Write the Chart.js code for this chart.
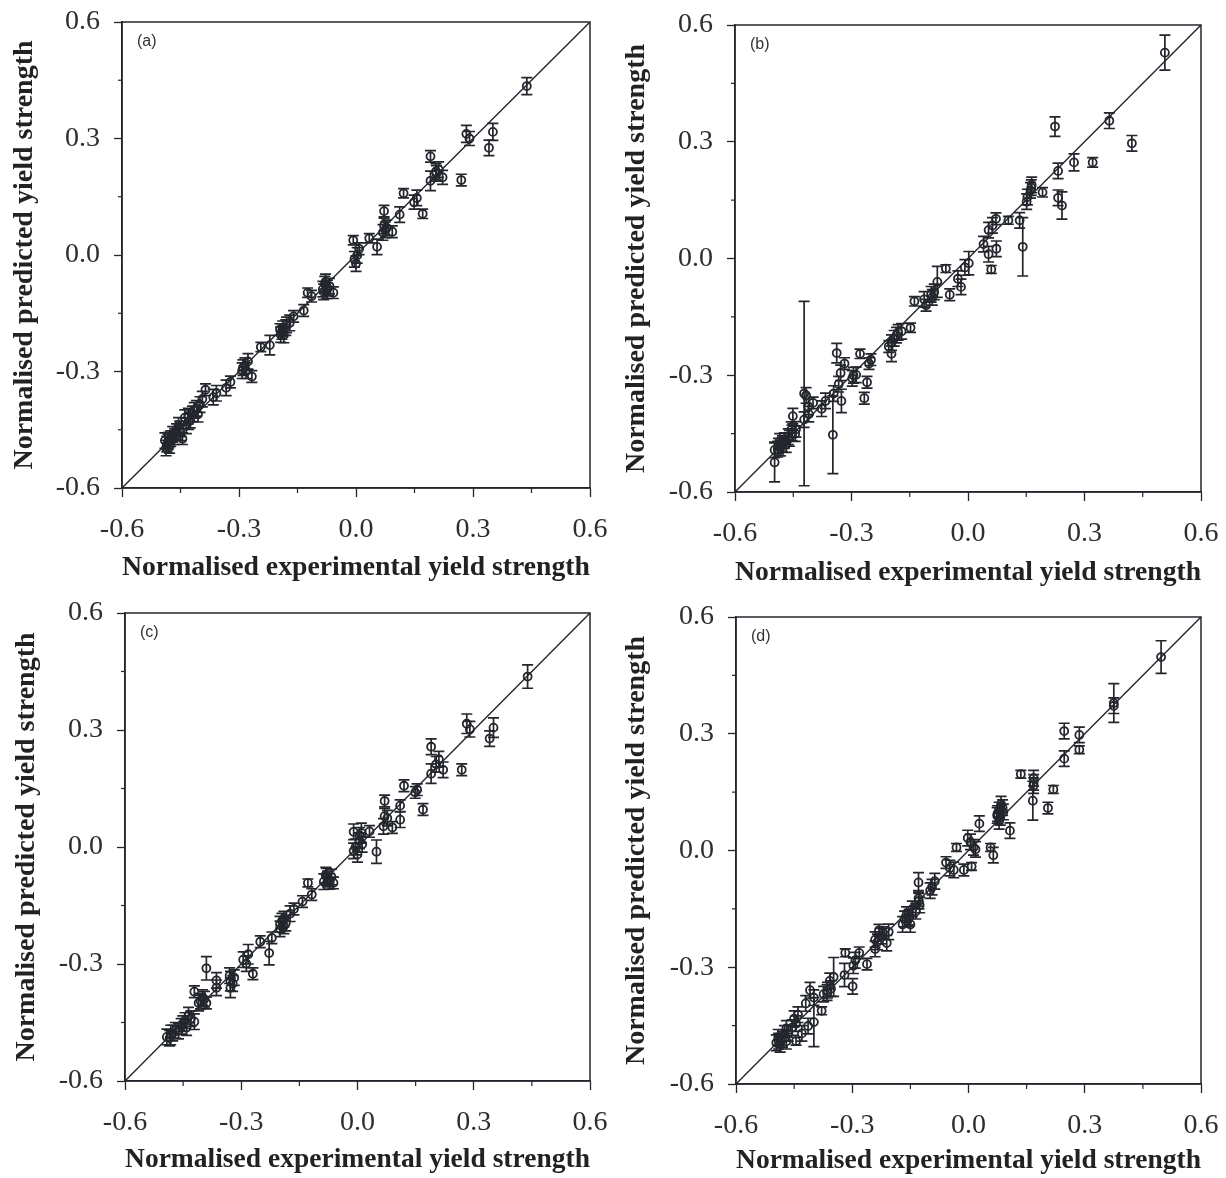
<!DOCTYPE html>
<html><head><meta charset="utf-8">
<script src="https://cdn.jsdelivr.net/npm/chart.js@4.4.1/dist/chart.umd.min.js"></script>
<style>
html,body{margin:0;padding:0;background:#fff;}
#wrap{position:relative;width:1226px;height:1178px;overflow:hidden;background:#fff;}
canvas{position:absolute;}
</style></head><body>
<div id="wrap">
<canvas id="ca" width="613" height="590" style="left:0;top:0"></canvas>
<canvas id="cb" width="613" height="590" style="left:613px;top:0"></canvas>
<canvas id="cc" width="613" height="588" style="left:0;top:590px"></canvas>
<canvas id="cd" width="613" height="588" style="left:613px;top:590px"></canvas>
</div>
<script>
// ---------------- data ----------------
const tickValues = [-0.6,-0.45,-0.3,-0.15,0,0.15,0.3,0.45,0.6];
const tickLabels = ['-0.6','','-0.3','','0.0','','0.3','','0.6'];
const xTitle = 'Normalised experimental yield strength';
const yTitle = 'Normalised predicted yield strength';
const panelLabels = ['(a)','(b)','(c)','(d)'];
const diagonal = [-0.6, 0.6];

const expA  = [0.438,0.283,0.291,0.351,0.341,0.191,0.212,0.206,0.222,0.191,0.270,0.122,0.156,0.149,0.171,0.072,0.112,0.072,0.079,0.069,0.093,0.034,-0.007,0.054,0.008,-0.004,0.003,0.000,-0.078,-0.073,-0.083,-0.058,-0.068,-0.124,-0.114,-0.134,-0.160,-0.170,-0.180,-0.190,-0.195,-0.185,-0.221,-0.244,-0.277,-0.282,-0.292,-0.267,-0.322,-0.333,-0.358,-0.366,-0.386,-0.394,-0.409,-0.419,-0.429,-0.439,-0.455,-0.450,-0.465,-0.480,-0.485,-0.475,-0.487,-0.445,-0.425,-0.405,
               -0.482,-0.478,-0.470,-0.460,-0.490,-0.452,-0.435,-0.430,-0.415,-0.400,-0.080,-0.085,-0.075,-0.188,-0.178,-0.193,-0.285,-0.290,0.075,0.205];
const predA = [0.435,0.312,0.300,0.317,0.276,0.254,0.220,0.210,0.200,0.191,0.193,0.159,0.147,0.136,0.106,0.113,0.104,0.075,0.070,0.058,0.060,0.043,0.038,0.021,0.016,-0.011,-0.001,-0.022,-0.069,-0.085,-0.095,-0.097,-0.080,-0.097,-0.106,-0.143,-0.158,-0.175,-0.187,-0.197,-0.192,-0.206,-0.232,-0.237,-0.274,-0.298,-0.298,-0.313,-0.327,-0.342,-0.356,-0.366,-0.347,-0.371,-0.395,-0.409,-0.429,-0.419,-0.439,-0.458,-0.468,-0.477,-0.487,-0.473,-0.497,-0.473,-0.425,-0.410,
               -0.482,-0.490,-0.462,-0.455,-0.478,-0.448,-0.440,-0.415,-0.400,-0.385,-0.075,-0.088,-0.092,-0.190,-0.180,-0.205,-0.285,-0.290,0.065,0.215];
const errA  = [0.022,0.022,0.018,0.022,0.02,0.015,0.02,0.02,0.018,0.025,0.015,0.012,0.02,0.018,0.012,0.015,0.02,0.02,0.02,0.02,0.015,0.012,0.012,0.02,0.015,0.02,0.02,0.02,0.02,0.02,0.02,0.015,0.02,0.012,0.015,0.015,0.015,0.02,0.02,0.02,0.015,0.02,0.025,0.012,0.02,0.02,0.02,0.015,0.015,0.02,0.02,0.02,0.015,0.02,0.02,0.02,0.02,0.02,0.02,0.02,0.02,0.02,0.02,0.02,0.02,0.015,0.02,0.02,
               0.02,0.02,0.02,0.02,0.02,0.02,0.02,0.02,0.02,0.02,0.02,0.02,0.02,0.02,0.02,0.02,0.02,0.02,0.02,0.02];

const expB  = [0.507,0.364,0.224,0.422,0.321,0.273,0.232,0.164,0.161,0.192,0.232,0.242,0.153,0.151,0.104,0.133,0.141,0.072,0.063,0.053,0.040,0.053,0.073,0.060,-0.057,0.002,-0.008,-0.026,-0.018,-0.079,-0.047,-0.087,-0.092,-0.113,-0.138,-0.108,-0.148,-0.171,-0.184,-0.197,-0.204,-0.197,-0.250,-0.255,-0.278,-0.288,-0.298,-0.260,-0.267,-0.338,-0.318,-0.328,-0.333,-0.346,-0.326,-0.348,-0.367,-0.377,-0.399,-0.411,-0.417,-0.422,-0.410,-0.422,-0.451,-0.443,-0.453,-0.463,-0.473,-0.488,-0.498,-0.483,-0.498,-0.468,
               -0.478,-0.485,-0.460,-0.455,-0.490,-0.445,-0.190,-0.180,-0.095,-0.295,0.163];
const predB = [0.529,0.354,0.339,0.296,0.247,0.247,0.225,0.189,0.175,0.170,0.156,0.136,0.158,0.146,0.098,0.098,0.030,0.102,0.085,0.073,0.037,0.011,0.025,-0.028,-0.026,-0.012,-0.023,-0.052,-0.073,-0.060,-0.093,-0.086,-0.100,-0.105,-0.110,-0.120,-0.178,-0.187,-0.197,-0.216,-0.226,-0.245,-0.260,-0.270,-0.245,-0.299,-0.308,-0.318,-0.359,-0.243,-0.270,-0.294,-0.323,-0.347,-0.366,-0.453,-0.366,-0.386,-0.371,-0.381,-0.352,-0.347,-0.400,-0.414,-0.405,-0.439,-0.448,-0.458,-0.468,-0.482,-0.492,-0.487,-0.524,-0.478,
               -0.476,-0.470,-0.462,-0.440,-0.490,-0.450,-0.205,-0.190,-0.092,-0.300,0.182];
const errB  = [0.045,0.02,0.025,0.02,0.012,0.022,0.02,0.02,0.02,0.012,0.02,0.035,0.02,0.02,0.01,0.02,0.075,0.015,0.02,0.02,0.02,0.02,0.02,0.01,0.01,0.03,0.02,0.02,0.02,0.04,0.015,0.02,0.02,0.02,0.012,0.015,0.012,0.02,0.02,0.02,0.015,0.02,0.015,0.015,0.012,0.02,0.02,0.015,0.015,0.025,0.015,0.02,0.02,0.02,0.03,0.1,0.02,0.02,0.015,0.02,0.02,0.237,0.02,0.02,0.02,0.02,0.02,0.02,0.02,0.02,0.02,0.02,0.05,0.02,
               0.02,0.02,0.02,0.02,0.02,0.02,0.02,0.02,0.02,0.02,0.02];

const expC  = [0.439,0.282,0.290,0.351,0.341,0.190,0.210,0.203,0.221,0.190,0.269,0.120,0.154,0.149,0.169,0.070,0.110,0.110,0.070,0.077,0.067,0.090,0.031,-0.010,0.010,0.049,0.005,0.012,-0.010,0.000,-0.082,-0.067,-0.087,-0.062,-0.077,-0.128,-0.118,-0.142,-0.164,-0.174,-0.190,-0.200,-0.190,-0.221,-0.251,-0.228,-0.282,-0.295,-0.287,-0.270,-0.318,-0.328,-0.328,-0.390,-0.364,-0.364,-0.421,-0.400,-0.410,-0.390,-0.436,-0.421,-0.451,-0.441,-0.462,-0.482,-0.492,-0.477,
               -0.485,-0.470,-0.455,-0.445,-0.430,-0.405,-0.395,-0.330,-0.322,-0.195,-0.185,-0.200,-0.080,-0.072,0.005,-0.005];
const predC = [0.437,0.316,0.302,0.306,0.278,0.257,0.225,0.212,0.198,0.188,0.198,0.157,0.147,0.140,0.096,0.118,0.106,0.070,0.079,0.074,0.053,0.050,0.040,0.039,0.036,-0.012,0.016,0.007,-0.010,-0.019,-0.072,-0.077,-0.089,-0.092,-0.082,-0.092,-0.122,-0.140,-0.159,-0.171,-0.185,-0.198,-0.202,-0.233,-0.243,-0.272,-0.275,-0.289,-0.299,-0.325,-0.335,-0.344,-0.361,-0.311,-0.342,-0.361,-0.371,-0.386,-0.400,-0.400,-0.431,-0.448,-0.453,-0.463,-0.472,-0.482,-0.487,-0.477,
               -0.490,-0.470,-0.460,-0.445,-0.440,-0.395,-0.390,-0.330,-0.350,-0.190,-0.195,-0.210,-0.075,-0.088,0.030,0.000];
const errC  = [0.03,0.025,0.02,0.025,0.02,0.02,0.02,0.02,0.02,0.025,0.015,0.015,0.015,0.015,0.015,0.015,0.015,0.02,0.02,0.02,0.02,0.015,0.015,0.02,0.025,0.03,0.02,0.02,0.02,0.02,0.02,0.02,0.02,0.015,0.02,0.01,0.015,0.015,0.015,0.02,0.02,0.02,0.02,0.015,0.015,0.03,0.025,0.02,0.02,0.015,0.02,0.025,0.025,0.03,0.02,0.02,0.015,0.02,0.02,0.015,0.02,0.02,0.02,0.02,0.02,0.025,0.02,0.02,
               0.02,0.02,0.02,0.02,0.02,0.02,0.02,0.02,0.02,0.02,0.02,0.02,0.02,0.02,0.02,0.02];

const expD  = [0.497,0.375,0.375,0.247,0.286,0.286,0.247,0.135,0.168,0.168,0.166,0.219,0.205,0.084,0.079,0.074,0.079,0.090,0.107,0.028,-0.031,-0.002,0.005,0.013,0.018,0.057,0.064,0.008,-0.012,-0.058,-0.048,-0.038,-0.087,-0.094,-0.099,-0.129,-0.129,-0.126,-0.136,-0.153,-0.165,-0.170,-0.150,-0.211,-0.206,-0.221,-0.231,-0.241,-0.241,-0.262,-0.282,-0.292,-0.318,-0.297,-0.299,-0.320,-0.348,-0.358,-0.364,-0.374,-0.379,-0.409,-0.420,-0.399,-0.399,-0.414,-0.440,-0.450,-0.430,-0.445,-0.470,-0.475,-0.470,-0.491,-0.496,-0.486,
               -0.490,-0.480,-0.465,-0.455,-0.445,-0.365,-0.355,-0.160,-0.155,-0.145,-0.128,0.082,0.088,0.075,-0.235,-0.225,0.168];
const predD = [0.497,0.379,0.372,0.307,0.297,0.259,0.236,0.196,0.186,0.167,0.128,0.157,0.109,0.119,0.104,0.090,0.075,0.099,0.051,0.069,0.008,0.032,0.022,0.008,0.003,0.008,-0.012,-0.041,-0.050,-0.031,-0.045,-0.050,-0.079,-0.094,-0.103,-0.082,-0.123,-0.140,-0.156,-0.171,-0.176,-0.190,-0.190,-0.238,-0.209,-0.211,-0.205,-0.229,-0.253,-0.292,-0.263,-0.282,-0.263,-0.296,-0.349,-0.320,-0.325,-0.335,-0.359,-0.369,-0.412,-0.359,-0.393,-0.378,-0.441,-0.451,-0.422,-0.432,-0.470,-0.490,-0.457,-0.470,-0.490,-0.480,-0.494,-0.498,
               -0.490,-0.485,-0.470,-0.455,-0.445,-0.365,-0.355,-0.165,-0.175,-0.150,-0.130,0.085,0.110,0.095,-0.235,-0.220,0.175];
const errD  = [0.042,0.05,0.02,0.02,0.02,0.01,0.02,0.01,0.02,0.02,0.05,0.01,0.015,0.02,0.02,0.02,0.02,0.02,0.02,0.02,0.01,0.02,0.02,0.02,0.02,0.01,0.02,0.01,0.015,0.015,0.02,0.02,0.02,0.02,0.02,0.025,0.02,0.02,0.02,0.02,0.02,0.02,0.02,0.02,0.02,0.015,0.015,0.02,0.02,0.015,0.015,0.02,0.01,0.02,0.02,0.03,0.05,0.02,0.02,0.02,0.01,0.02,0.02,0.02,0.063,0.02,0.02,0.02,0.02,0.01,0.02,0.02,0.02,0.02,0.02,0.02,
               0.02,0.02,0.02,0.02,0.02,0.02,0.02,0.02,0.02,0.02,0.02,0.02,0.02,0.02,0.02,0.02,0.02];

// ---------------- style ----------------
const INK = '#24262d';
const TXT = '#2e2e2e';
const SERIF = '"Liberation Serif", "Times New Roman", serif';

const decoPlugin = {
  id: 'deco',
  beforeDatasetsDraw(chart) {
    const {ctx, scales: {x, y}} = chart;
    const ds = chart.data.datasets[1];
    ctx.save();
    ctx.strokeStyle = INK; ctx.lineWidth = 1.7;
    ds.data.forEach(p => {
      const px = x.getPixelForValue(p.x);
      const y1 = y.getPixelForValue(p.y + p.e), y2 = y.getPixelForValue(p.y - p.e);
      ctx.beginPath();
      ctx.moveTo(px, y1); ctx.lineTo(px, y2);
      ctx.moveTo(px - 5.5, y1); ctx.lineTo(px + 5.5, y1);
      ctx.moveTo(px - 5.5, y2); ctx.lineTo(px + 5.5, y2);
      ctx.stroke();
    });
    ctx.restore();
  },
  afterDraw(chart, args, opts) {
    const {ctx, chartArea: a, scales: {x, y}} = chart;
    ctx.save();
    ctx.strokeStyle = INK; ctx.lineWidth = 1.5;
    ctx.strokeRect(a.left, a.top, a.right - a.left, a.bottom - a.top);
    ctx.lineWidth = 1.2;
    tickValues.forEach((v, i) => {
      if (i % 2 === 1) {
        const px = x.getPixelForValue(v);
        ctx.beginPath(); ctx.moveTo(px, a.bottom); ctx.lineTo(px, a.bottom + 5); ctx.stroke();
        const py = y.getPixelForValue(v);
        ctx.beginPath(); ctx.moveTo(a.left, py); ctx.lineTo(a.left - 4, py); ctx.stroke();
      }
    });
    ctx.fillStyle = '#333';
    ctx.font = '16px "Liberation Sans", Arial, sans-serif';
    ctx.textBaseline = 'top';
    ctx.fillText(opts.label, a.left + 15, a.top + 12);
    ctx.restore();
  }
};

function makeChart(id, xs, ys, es, label, L) {
  const pts = xs.map((v, i) => ({x: v, y: ys[i], e: es[i]}));
  return new Chart(document.getElementById(id), {
    type: 'scatter',
    data: {
      datasets: [
        {type: 'line', data: diagonal.map(v => ({x: v, y: v})), borderColor: INK, borderWidth: 1.4, pointRadius: 0, fill: false, order: 2},
        {data: pts, pointStyle: 'circle', pointRadius: 4, borderWidth: 1.8, borderColor: INK, backgroundColor: 'rgba(0,0,0,0)', order: 1}
      ]
    },
    options: {
      responsive: false, animation: false, devicePixelRatio: 1,
      layout: {padding: {top: L.pt, right: L.pr, left: 0, bottom: 0}},
      plugins: {legend: {display: false}, tooltip: {enabled: false}, deco: {label: label}},
      scales: {
        x: {
          type: 'linear', min: -0.6, max: 0.6,
          afterBuildTicks(s) { s.ticks = tickValues.map(v => ({value: v})); },
          afterFit(s) { s.height = L.xh; s.paddingLeft = 0; s.paddingRight = 0; },
          ticks: {autoSkip: false, maxRotation: 0, padding: 16, color: TXT, font: {family: SERIF, size: 28},
                  callback: (v, i) => tickLabels[i]},
          grid: {drawOnChartArea: false, drawTicks: true, tickLength: 9, tickWidth: 1.3,
                 tickColor: c => (c.index % 2 === 1 ? 'rgba(0,0,0,0)' : INK)},
          border: {display: true, color: INK, width: 1.5},
          title: {display: true, text: xTitle, color: '#222', font: {family: SERIF, size: 28, weight: 'bold'}, padding: {top: 0, bottom: L.xtp}}
        },
        y: {
          type: 'linear', min: -0.6, max: 0.6,
          afterBuildTicks(s) { s.ticks = tickValues.map(v => ({value: v})); },
          afterFit(s) { s.width = L.yw; s.paddingTop = 0; s.paddingBottom = 0; },
          ticks: {autoSkip: false, padding: 14, color: TXT, font: {family: SERIF, size: 28},
                  callback: (v, i) => tickLabels[i]},
          grid: {drawOnChartArea: false, drawTicks: true, tickLength: 8, tickWidth: 1.3,
                 tickColor: c => (c.index % 2 === 1 ? 'rgba(0,0,0,0)' : INK)},
          border: {display: true, color: INK, width: 1.5},
          title: {display: true, text: yTitle, color: '#222', font: {family: SERIF, size: 28, weight: 'bold'}, padding: {top: L.ytp, bottom: 0}}
        }
      }
    },
    plugins: [decoPlugin]
  });
}

makeChart('ca', expA, predA, errA, panelLabels[0], {pt: 22, pr: 23, xh: 102, yw: 122, xtp: 5, ytp: 8});
makeChart('cb', expB, predB, errB, panelLabels[1], {pt: 25, pr: 25, xh: 98, yw: 122, xtp: 0, ytp: 7});
makeChart('cc', expC, predC, errC, panelLabels[2], {pt: 23, pr: 23, xh: 97, yw: 125, xtp: 1, ytp: 10});
makeChart('cd', expD, predD, errD, panelLabels[3], {pt: 27, pr: 25, xh: 94, yw: 123, xtp: 0, ytp: 7});
</script>
</body></html>
